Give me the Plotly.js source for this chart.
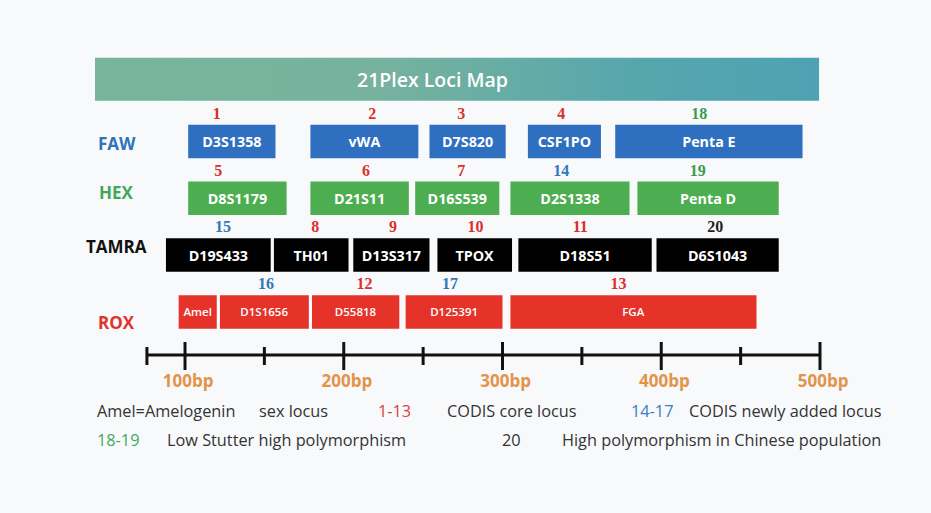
<!DOCTYPE html>
<html>
<head>
<meta charset="utf-8">
<script src="https://cdn.plot.ly/plotly-3.0.1.min.js"></script>
<style>
  html, body { margin: 0; padding: 0; background: #f8f9fb; }
  #chart { width: 931px; height: 513px; }
</style>
</head>
<body>
<div id="chart"></div>
<script>
// ---- Data (base pairs) ----
const channels = ['FAW', 'HEX', 'TAMRA', 'ROX'];

const fawLoci  = ['D3S1358', 'vWA', 'D7S820', 'CSF1PO', 'Penta E'];
const fawStart = [102, 179, 254, 316, 371];
const fawEnd   = [157, 247, 302, 362, 489];
const fawNum   = [1, 2, 3, 4, 18];
const fawNumBp = [120, 218, 274, 337, 424];

const hexLoci  = ['D8S1179', 'D21S11', 'D16S539', 'D2S1338', 'Penta D'];
const hexStart = [102, 179, 245, 305, 385];
const hexEnd   = [164, 241, 298, 380, 474];
const hexNum   = [5, 6, 7, 14, 19];
const hexNumBp = [121, 214, 274, 337, 423];

const tamLoci  = ['D19S433', 'TH01', 'D13S317', 'TPOX', 'D18S51', 'D6S1043'];
const tamStart = [88, 156, 206, 259, 310, 397];
const tamEnd   = [154, 203, 254, 306, 394, 474];
const tamNum   = [15, 8, 9, 10, 11, 20];
const tamNumBp = [124, 182, 231, 283, 349, 434];

const roxLoci  = ['Amel', 'D1S1656', 'D55818', 'D125391', 'FGA'];
const roxStart = [96, 122, 180, 239, 305];
const roxEnd   = [120, 178, 235, 300, 460];
const roxNum   = [16, 12, 17, 13];
const roxNumBp = [151, 213, 267, 373];

const majorTicks = [100, 200, 300, 400, 500];
const minorTicks = [76, 150, 250, 350, 450];
const tickLabels = ['100bp', '200bp', '300bp', '400bp', '500bp'];

const titleText = '21Plex Loci Map';
const legendRow1 = ['Amel=Amelogenin', 'sex locus', '1-13', 'CODIS core locus', '14-17', 'CODIS newly added locus'];
const legendRow2 = ['18-19', 'Low Stutter high polymorphism', '20', 'High polymorphism in Chinese population'];

// ---- Styles / layout constants ----
const boxColors  = ['#2e6fc0', '#4cae50', '#000000', '#e5332a'];
const labelColors = ['#2f75b5', '#3fa85a', '#111111', '#e0342b'];
const RED = '#d9302c', BLUE = '#2f78b9', GREEN = '#3a9b4d', BLACK = '#222222';
function numColor(n) {
  if (n <= 13) return RED;
  if (n <= 17) return BLUE;
  if (n <= 19) return GREEN;
  return BLACK;
}

const FONT = 'Open Sans, Noto Sans, sans-serif';
const SERIF = 'Liberation Serif, DejaVu Serif, serif';

const rowSets = [
  {loci: fawLoci, s: fawStart, e: fawEnd, n: fawNum, nb: fawNumBp},
  {loci: hexLoci, s: hexStart, e: hexEnd, n: hexNum, nb: hexNumBp},
  {loci: tamLoci, s: tamStart, e: tamEnd, n: tamNum, nb: tamNumBp},
  {loci: roxLoci, s: roxStart, e: roxEnd, n: roxNum, nb: roxNumBp}
];

const traces = [];

// Title bar with gradient
const TB = {x0: 43.3, x1: 499.4, y0: -1.475, y1: -0.718};
traces.push({
  type: 'scatter', mode: 'lines',
  x: [TB.x0, TB.x1, TB.x1, TB.x0, TB.x0],
  y: [TB.y0, TB.y0, TB.y1, TB.y1, TB.y0],
  fill: 'toself',
  line: {width: 0, color: 'rgba(0,0,0,0)'},
  fillcolor: '#66ada5',
  fillgradient: {
    type: 'horizontal',
    colorscale: [[0, '#79b49c'], [0.4, '#76b29e'], [0.75, '#56a6ad'], [1, '#4ea2b2']]
  },
  hoverinfo: 'skip'
});

// Loci bars
rowSets.forEach((r, i) => {
  const rox = (i === 3);
  traces.push({
    type: 'bar', orientation: 'h',
    y: r.loci.map(() => i),
    base: r.s,
    x: r.s.map((v, k) => r.e[k] - v),
    width: 0.59,
    text: r.loci,
    textposition: 'inside',
    insidetextanchor: 'middle',
    textangle: 0,
    constraintext: 'none',
    textfont: {color: '#ffffff', family: FONT, size: rox ? 11.5 : 14.3, weight: rox ? 600 : 700},
    marker: {color: boxColors[i], line: {width: 0}},
    hoverinfo: 'skip'
  });
  // numbers above boxes
  traces.push({
    type: 'scatter', mode: 'text',
    x: r.nb,
    y: r.nb.map(() => i - 0.47),
    text: r.n.map(String),
    textfont: {family: SERIF, size: 16, weight: 700, color: r.n.map(numColor)},
    hoverinfo: 'skip'
  });
});

// Number line
const AX_Y = 3.759, MAJ0 = 3.53, MAJ1 = 4.023, MIN0 = 3.618, MIN1 = 3.935;
traces.push({
  type: 'scatter', mode: 'lines',
  x: [minorTicks[0], majorTicks[majorTicks.length - 1]],
  y: [AX_Y, AX_Y],
  line: {color: '#111111', width: 3},
  hoverinfo: 'skip'
});
const tx = [], ty = [];
majorTicks.forEach(t => { tx.push(t, t, null); ty.push(MAJ0, MAJ1, null); });
minorTicks.forEach(t => { tx.push(t, t, null); ty.push(MIN0, MIN1, null); });
traces.push({
  type: 'scatter', mode: 'lines', x: tx, y: ty,
  line: {color: '#111111', width: 3},
  hoverinfo: 'skip', connectgaps: false
});
traces.push({
  type: 'scatter', mode: 'text',
  x: majorTicks.map(t => t + 2),
  y: majorTicks.map(() => 4.25),
  text: tickLabels,
  textfont: {family: FONT, size: 17, weight: 700, color: '#e3944a'},
  hoverinfo: 'skip'
});

// Annotations
const annotations = [];
annotations.push({
  x: 255.9, y: -1.10, xref: 'x', yref: 'y', text: titleText, showarrow: false,
  font: {family: FONT, size: 19.5, weight: 600, color: '#ffffff'}
});
const chanLabelY = [0.03, 0.90, 1.85, 3.19];
channels.forEach((c, i) => {
  annotations.push({
    x: 57, y: chanLabelY[i], xref: 'x', yref: 'y', text: c, showarrow: false,
    font: {family: FONT, size: 17, weight: 700, color: labelColors[i]}
  });
});
const LG = '#333333';
const row1X = [95, 257, 376, 445, 629, 687];
const row1C = [LG, LG, '#e0403a', LG, '#3a7fc0', LG];
const row2X = [95, 165, 500, 560];
const row2C = ['#3faa60', LG, LG, LG];
legendRow1.forEach((t, k) => annotations.push({
  x: row1X[k] / 931, y: 1 - 411 / 513, xref: 'paper', yref: 'paper', xanchor: 'left', yanchor: 'middle',
  text: t, showarrow: false, font: {family: FONT, size: 16.3, color: row1C[k]}
}));
legendRow2.forEach((t, k) => annotations.push({
  x: row2X[k] / 931, y: 1 - 440 / 513, xref: 'paper', yref: 'paper', xanchor: 'left', yanchor: 'middle',
  text: t, showarrow: false, font: {family: FONT, size: 16.3, color: row2C[k]}
}));

const layout = {
  width: 931, height: 513, autosize: false,
  margin: {l: 0, r: 0, t: 0, b: 0, pad: 0},
  paper_bgcolor: '#f8f9fb', plot_bgcolor: '#f8f9fb',
  showlegend: false,
  barmode: 'overlay',
  xaxis: {range: [-16.54, 569.92], visible: false, fixedrange: true},
  yaxis: {range: [6.540, -2.491], visible: false, fixedrange: true},
  annotations: annotations
};

Plotly.newPlot('chart', traces, layout, {displayModeBar: false, staticPlot: true});
</script>
</body>
</html>
